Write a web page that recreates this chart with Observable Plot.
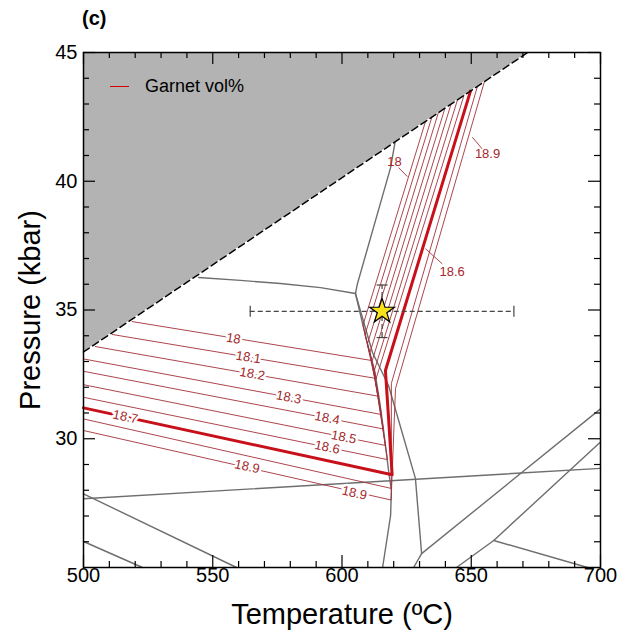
<!DOCTYPE html>
<html><head><meta charset="utf-8">
<script src="https://cdn.jsdelivr.net/npm/d3@7"></script>
<script src="https://cdn.jsdelivr.net/npm/@observablehq/plot@0.6"></script>
<style>
body{margin:0;background:#fff;font-family:"Liberation Sans",Arial,sans-serif;}
#wrap{position:relative;width:620px;height:643px;}
#tag{position:absolute;left:82px;top:7px;font-weight:bold;font-size:20px;color:#000;}
#legend{position:absolute;left:110px;top:76px;font-size:18px;display:flex;align-items:center;color:#000;}
#legend .sw{display:inline-block;width:19px;border-top:1.5px solid #d40000;margin-right:16px;}
#ytitle{position:absolute;left:30px;top:310px;transform:translate(-50%,-50%) rotate(-90deg);font-size:29px;white-space:nowrap;color:#000;}
</style></head><body>
<div id="wrap"><div id="chart"></div><div id="tag">(c)</div><div id="legend"><span class="sw"></span>Garnet vol%</div><div id="ytitle">Pressure (kbar)</div></div>
<script>
// ---- axis ticks ----
const xMajor = [500, 550, 600, 650, 700];
const xMinor = [510,520,530,540,560,570,580,590,610,620,630,640,660,670,680,690];
const yMajor = [30, 35, 40, 45];
const yMinor = [26,27,28,29,31,32,33,34,36,37,38,39,41,42,43,44];

// ---- grey (forbidden) field boundary ----
const greyBoundary = [[500, 33.37], [671.8, 45]];

// ---- phase boundaries [T, P] ----
const lineA = [[544.5,36.26],[560.7,36.15],[576.2,36.03],[591.7,35.87],[605.2,35.64]];
const lineB = [[605.2,35.64],[606.0,36.03],[618.8,40.53],[620.5,41.5]];
const lineC1 = [[605.2,35.64],[611.8,33.35],[618.0,32.07],[628.4,28.46],[630.8,25.54],[627.7,25.0]];
const lineC2 = [[605.2,35.64],[609.5,33.82],[612.6,32.65],[614.5,31.49],[616.1,30.32],[618.0,28.77],[619.1,27.99],[618.8,27.02],[615.7,25.0]];
const lineD = [[500,27.67],[700,28.85]];
const lineE = [[500,27.86],[559.2,25.0]];
const lineF = [[500,26.01],[522.8,25.0]];
const lineG = [[630.8,25.54],[700,31.16]];
const lineH = [[644.3,25.0],[658.7,26.05],[700,29.87]];
const lineI = [[658.7,26.05],[695,25.0]];
const phaseLines = [lineA, lineB, lineC1, lineC2, lineD, lineE, lineF, lineG, lineH, lineI];

// ---- garnet vol% isopleths [T, P] ----
const iso180 = [[518.8,34.55],[611.4,33.04],[608.1,34.41],[632.3,42.32]];
const iso181 = [[511.1,34.05],[613.3,32.34],[608.9,34.04],[634.8,42.50]];
const iso182 = [[504.6,33.58],[614.2,31.65],[609.8,33.67],[637.3,42.67]];
const iso183 = [[500,33.10],[615.3,30.94],[610.8,33.34],[639.8,42.83]];
const iso184 = [[500,32.62],[616.0,30.38],[611.6,33.00],[642.2,43.00]];
const iso185 = [[500,32.10],[616.8,29.74],[612.5,32.65],[644.7,43.17]];
const iso186 = [[500,31.61],[617.6,29.19],[612.9,32.24],[647.2,43.34]];
const iso187 = [[500,31.20],[619.4,28.60],[618.0,30.83],[616.8,32.65],[649.7,43.50]];
const iso188 = [[500,30.77],[619.1,28.07],[619.1,32.15],[652.4,43.69]];
const iso189 = [[500,30.32],[619.0,27.62],[620.7,31.95],[655.1,43.87]];
const thinIsopleths = [iso180, iso181, iso182, iso183, iso184, iso185, iso186, iso188, iso189];

// ---- isopleth labels ----
const labelText = ["18","18.1","18.2","18.3","18.4","18.5","18.6","18.7","18.9","18.9"];
const labelT    = [558.0, 563.8, 565.3, 579.4, 594.3, 600.7, 594.3, 516.2, 563.3, 604.8];
const labelP    = [33.89, 33.16, 32.52, 31.61, 30.80, 30.06, 29.67, 30.85, 28.92, 27.89];
const labelAngle= [8.8, 9.3, 10.0, 10.6, 10.9, 11.4, 11.6, 12.3, 12.4, 12.7];

const upText = ["18", "18.9", "18.6"];
const upT = [620.3, 656.3, 642.6];
const upP = [40.77, 41.08, 36.50];
const leadT1 = [621.9, 654.2, 638.8];
const leadP1 = [40.53, 41.26, 36.79];
const leadT2 = [625.3, 650.4, 632.3];
const leadP2 = [40.18, 41.71, 37.38];

// ---- sample P-T estimate ----
const sampleT = 615.5, sampleP = 34.95;
const sampleTerr = 51, samplePerr = 1.02;

// ---- build tables ----
const pts = a => a.map(([T, P]) => ({T, P}));
const labelsA = labelText.map((t, i) => ({t, T: labelT[i], P: labelP[i], a: labelAngle[i]}));
const labelsB = upText.map((t, i) => ({t, T: upT[i], P: upP[i]}));
const leaders = leadT1.map((d, i) => ({T1: d, P1: leadP1[i], T2: leadT2[i], P2: leadP2[i]}));
const sample = [{T: sampleT, P: sampleP, Tlo: sampleT - sampleTerr, Thi: sampleT + sampleTerr, Plo: sampleP - samplePerr, Phi: sampleP + samplePerr}];

const capV = {draw(ctx, size) { const r = Math.sqrt(size / Math.PI); ctx.moveTo(0, -r); ctx.lineTo(0, r); }};
const capH = {draw(ctx, size) { const r = Math.sqrt(size / Math.PI); ctx.moveTo(-r, 0); ctx.lineTo(r, 0); }};

const W = 620, H = 643, mt = 52, mr = 20, mb = 76, ml = 83;
const ih = H - mt - mb, iw = W - ml - mr;
const thin = "#a3303a", thick = "#c8101a", grey = "#6e6e6e";

const marks = [
  Plot.areaY(pts(greyBoundary), {x: "T", y1: "P", y2: () => 45, fill: "#b3b3b3"}),
  ...phaseLines.map(l => Plot.line(pts(l), {x: "T", y: "P", stroke: grey, strokeWidth: 1.4})),
  ...thinIsopleths.map(l => Plot.line(pts(l), {x: "T", y: "P", stroke: thin, strokeWidth: 0.9})),
  Plot.line(pts(iso187), {x: "T", y: "P", stroke: thick, strokeWidth: 3}),
  Plot.line(pts(greyBoundary), {x: "T", y: "P", stroke: "black", strokeWidth: 1.5, strokeDasharray: "7,4"}),
  Plot.text(labelsA, {x: "T", y: "P", text: "t", rotate: "a", fill: "#a3272b", stroke: "white", strokeWidth: 5, fontSize: 13}),
  Plot.link(leaders, {x1: "T1", y1: "P1", x2: "T2", y2: "P2", stroke: thin, strokeWidth: 0.9}),
  Plot.text(labelsB, {x: "T", y: "P", text: "t", fill: "#a3272b", fontSize: 13}),
  Plot.ruleY(sample, {y: "P", x1: "Tlo", x2: "Thi", stroke: "#444", strokeWidth: 1.2, strokeDasharray: "5,3"}),
  Plot.ruleX(sample, {x: "T", y1: "Plo", y2: "Phi", stroke: "#444", strokeWidth: 1.2, strokeDasharray: "5,3"}),
  Plot.dot(sample, {x: "Tlo", y: "P", symbol: capV, r: 5.5, stroke: "#444", strokeWidth: 1.2}),
  Plot.dot(sample, {x: "Thi", y: "P", symbol: capV, r: 5.5, stroke: "#444", strokeWidth: 1.2}),
  Plot.dot(sample, {x: "T", y: "Plo", symbol: capH, r: 5.5, stroke: "#444", strokeWidth: 1.2}),
  Plot.dot(sample, {x: "T", y: "Phi", symbol: capH, r: 5.5, stroke: "#444", strokeWidth: 1.2}),
  Plot.dot(sample, {x: "T", y: "P", symbol: "star", r: 7.8, fill: "#f7e11a", stroke: "black", strokeWidth: 1.2}),
  // inward ticks
  Plot.tickX(xMajor, {x: d => d, insetTop: ih - 12, stroke: "black", strokeWidth: 1.2}),
  Plot.tickX(xMinor, {x: d => d, insetTop: ih - 6, stroke: "black", strokeWidth: 1.2}),
  Plot.tickX(xMajor, {x: d => d, insetBottom: ih - 12, stroke: "black", strokeWidth: 1.2}),
  Plot.tickX(xMinor, {x: d => d, insetBottom: ih - 6, stroke: "black", strokeWidth: 1.2}),
  Plot.tickY(yMajor, {y: d => d, insetRight: iw - 12, stroke: "black", strokeWidth: 1.2}),
  Plot.tickY(yMinor, {y: d => d, insetRight: iw - 6, stroke: "black", strokeWidth: 1.2}),
  Plot.tickY(yMajor, {y: d => d, insetLeft: iw - 12, stroke: "black", strokeWidth: 1.2}),
  Plot.tickY(yMinor, {y: d => d, insetLeft: iw - 6, stroke: "black", strokeWidth: 1.2}),
  Plot.frame({stroke: "black", strokeWidth: 1.5}),
  // tick labels
  Plot.text(xMajor, {x: d => d, text: d => String(d), frameAnchor: "bottom", dy: 14, fontSize: 20, fill: "black"}),
  Plot.text(yMajor, {y: d => d, text: d => String(d), frameAnchor: "left", dx: -6, textAnchor: "end", fontSize: 20, fill: "black"}),
  // x axis title
  Plot.text(["Temperature (ºC)"], {text: d => d, frameAnchor: "bottom", dy: 56, fontSize: 29, fill: "black"})
];

const chart = Plot.plot({
  width: W, height: H, marginTop: mt, marginRight: mr, marginBottom: mb, marginLeft: ml,
  x: {domain: [500, 700], axis: null},
  y: {domain: [25, 45], axis: null},
  style: {fontFamily: "'Liberation Sans', Arial, sans-serif", background: "white", overflow: "visible"},
  marks
});
document.getElementById("chart").appendChild(chart);
</script>
</body></html>
